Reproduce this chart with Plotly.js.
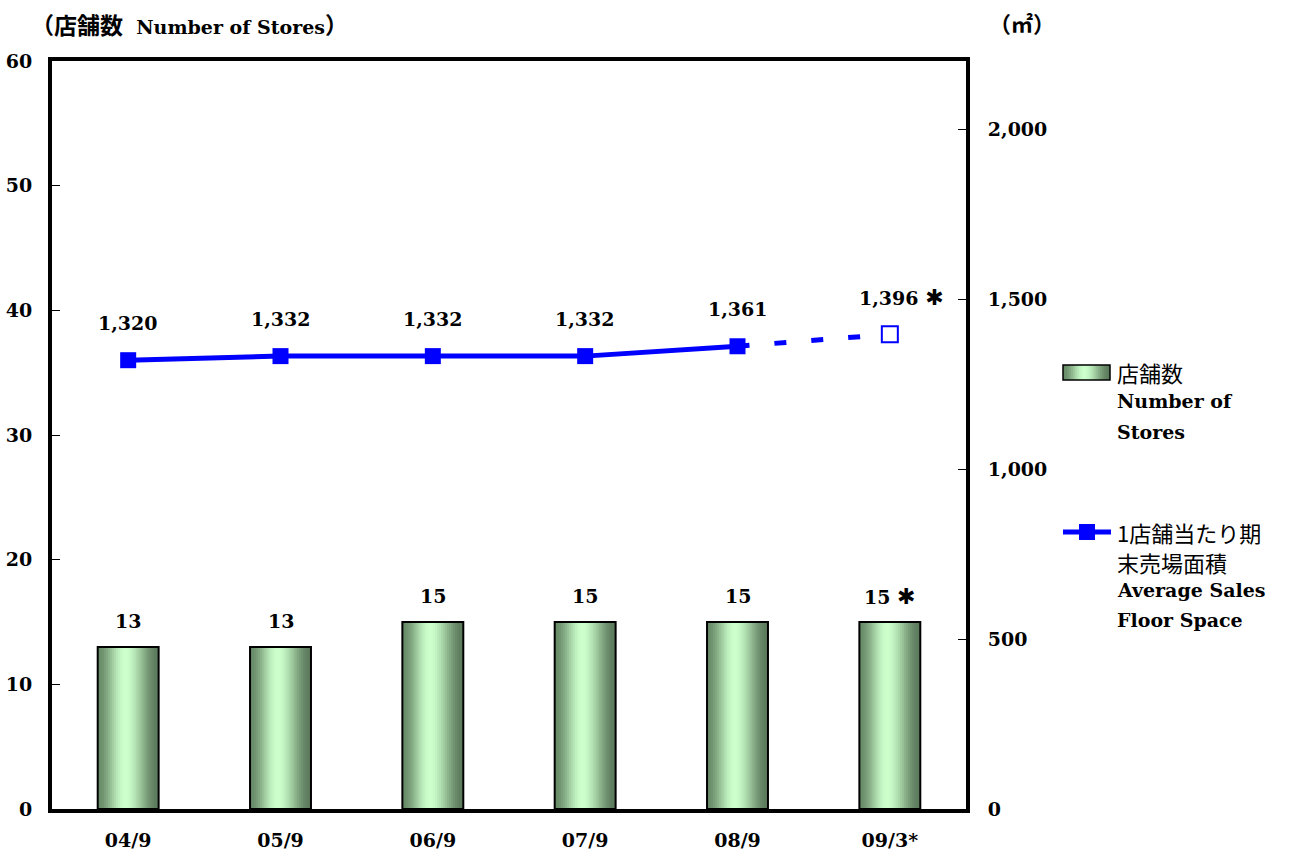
<!DOCTYPE html>
<html><head><meta charset="utf-8">
<script src="https://cdn.plot.ly/plotly-3.0.1.min.js"></script>
<style>html,body{margin:0;padding:0;background:#fff}#chart{width:1292px;height:856px}</style>
</head><body><div id="chart"></div>
<script>
// ---- data ----
const categories = ["04/9", "05/9", "06/9", "07/9", "08/9", "09/3*"];
const storeCounts = [13, 13, 15, 15, 15, 15];
const avgFloorSpace = [1320, 1332, 1332, 1332, 1361, 1396];
const noteMarks = ["", "", "", "", "", "✱"];
const leftTicks = [0, 10, 20, 30, 40, 50, 60];
const rightTicks = [0, 500, 1000, 1500, 2000];
const actualCount = 5;
const legendBarText = ["店舗数", "Number of", "Stores"];
const legendLineText = ["1店舗当たり期", "末売場面積", "Average Sales", "Floor Space"];
const leftTitle = ["（店舗数", "Number of Stores", "）"];
const rightTitle = "（㎡）";

// ---- layout helpers ----
const W = 1292, H = 856, L = 52, R = 966, T = 61, B = 809;
const px = x => (x - L) / (R - L);
const py = y => (B - y) / (B - T);
const SERIF = "DejaVu Serif, serif";
const CJK = "Noto Sans CJK JP, sans-serif";
const BLUE = "#0000ff";

const dark1 = [104, 138, 104], light = [204, 255, 204], dark2 = [92, 122, 92], peak = 0.45;
function smooth(u) { return u * u * (3 - 2 * u); }
function grad(t) {
  let a, b, u;
  if (t < peak) { a = dark1; b = light; u = smooth(t / peak); }
  else { a = light; b = dark2; u = smooth((t - peak) / (1 - peak)); }
  const c = a.map((v, k) => Math.round(v + (b[k] - v) * u));
  return `rgb(${c[0]},${c[1]},${c[2]})`;
}

const bw = 0.4, N = 30;
const traces = [];
for (let i = 0; i < N; i++) {
  const off = -bw / 2 + i * bw / N;
  traces.push({
    type: "bar", x: categories, y: storeCounts, yaxis: "y",
    offset: off, width: Math.min(bw / N * 1.6, bw / 2 - off),
    marker: { color: grad((i + 0.5) / N), line: { width: 0 } },
    hoverinfo: "skip", showlegend: false
  });
}
traces.push({
  type: "bar", x: categories, y: storeCounts, yaxis: "y", width: bw, offset: -bw / 2,
  marker: { color: "rgba(0,0,0,0)", line: { color: "#000", width: 2 } },
  hoverinfo: "skip", showlegend: false
});
traces.push({
  type: "scatter", mode: "lines", x: categories.slice(actualCount - 1), y: avgFloorSpace.slice(actualCount - 1),
  yaxis: "y2", line: { color: BLUE, width: 5, dash: "12px,25px" }, showlegend: false, hoverinfo: "skip"
});
traces.push({
  type: "scatter", mode: "lines+markers", x: categories.slice(0, actualCount), y: avgFloorSpace.slice(0, actualCount),
  yaxis: "y2", line: { color: BLUE, width: 5 },
  marker: { symbol: "square", size: 16, color: BLUE }, showlegend: false, hoverinfo: "skip"
});
traces.push({
  type: "scatter", mode: "markers", x: categories.slice(actualCount), y: avgFloorSpace.slice(actualCount),
  yaxis: "y2", marker: { symbol: "square", size: 16, color: "#fff", line: { color: BLUE, width: 2 } },
  showlegend: false, hoverinfo: "skip"
});

const lblFont = { family: SERIF, size: 19, color: "#000", weight: "bold" };
const noteHtml = m => m ? " <span style='font-family:DejaVu Sans;font-size:22px'>" + m + "</span>" : "";
const annotations = [];
categories.forEach((c, i) => {
  annotations.push({ x: c, y: storeCounts[i], xref: "x", yref: "y", yanchor: "middle",
    text: storeCounts[i] + noteHtml(noteMarks[i]), showarrow: false, yshift: 26, font: lblFont });
  annotations.push({ x: c, y: avgFloorSpace[i], xref: "x", yref: "y2", yanchor: "middle",
    text: avgFloorSpace[i].toLocaleString("en-US") + noteHtml(noteMarks[i]), showarrow: false,
    yshift: 37, xshift: noteMarks[i] ? 12 : 0, font: lblFont });
});
// titles
annotations.push({ xref: "paper", yref: "paper", x: px(29), y: py(24), xanchor: "left", yanchor: "middle", showarrow: false,
  text: "<span style='font-family:Noto Sans CJK JP;font-size:23px'>" + leftTitle[0] + "</span>  " + leftTitle[1] +
        "<span style='font-family:Noto Sans CJK JP;font-size:23px'>" + leftTitle[2] + "</span>",
  font: { family: SERIF, size: 19, color: "#000", weight: "bold" } });
annotations.push({ xref: "paper", yref: "paper", x: px(1022), y: py(22), xanchor: "center", yanchor: "middle", showarrow: false,
  text: rightTitle, font: { family: CJK, size: 22, color: "#000", weight: "bold" } });
// legend texts
const enFont = { family: SERIF, size: 19, color: "#000", weight: "bold" };
const jaFont = { family: CJK, size: 22, color: "#000" };
const legY1 = [372, 401, 432], legY2 = [532, 562, 590, 620];
legendBarText.forEach((t, i) => annotations.push({ xref: "paper", yref: "paper", x: px(1115), y: py(legY1[i]),
  xanchor: "left", yanchor: "middle", showarrow: false, text: t, font: i === 0 ? jaFont : enFont }));
legendLineText.forEach((t, i) => annotations.push({ xref: "paper", yref: "paper", x: px(1115), y: py(legY2[i]),
  xanchor: "left", yanchor: "middle", showarrow: false, text: t, font: i < 2 ? jaFont : enFont }));

// legend shapes
const shapes = [];
const lx0 = 1063, lx1 = 1110, ly0 = 365, ly1 = 380, M = 24;
for (let i = 0; i < M; i++) {
  const a = lx0 + (lx1 - lx0) * i / M, b = lx0 + (lx1 - lx0) * (i + 1.5) / M;
  shapes.push({ type: "rect", xref: "paper", yref: "paper", x0: px(a), x1: px(Math.min(b, lx1)), y0: py(ly1), y1: py(ly0),
    fillcolor: grad((i + 0.5) / M), line: { width: 0 }, layer: "above" });
}
shapes.push({ type: "rect", xref: "paper", yref: "paper", x0: px(lx0), x1: px(lx1), y0: py(ly1), y1: py(ly0),
  fillcolor: "rgba(0,0,0,0)", line: { color: "#000", width: 1.5 }, layer: "above" });
shapes.push({ type: "line", xref: "paper", yref: "paper", x0: px(1063), x1: px(1111), y0: py(532), y1: py(532),
  line: { color: BLUE, width: 5 }, layer: "above" });
shapes.push({ type: "rect", xref: "paper", yref: "paper", x0: px(1079), x1: px(1095), y0: py(540), y1: py(524),
  fillcolor: BLUE, line: { width: 0 }, layer: "above" });

const tickFont = { family: SERIF, size: 19, color: "#000", weight: "bold" };
const layout = {
  width: W, height: H, paper_bgcolor: "#fff", plot_bgcolor: "#fff",
  margin: { l: L, r: W - R, t: T, b: H - B, pad: 0 },
  barmode: "overlay", showlegend: false,
  xaxis: { type: "category", range: [-0.5, categories.length - 0.5], showline: true, linewidth: 4, linecolor: "#000",
    mirror: true, ticks: "", showgrid: false, zeroline: false, tickfont: tickFont, ticklabelstandoff: 11, fixedrange: true },
  yaxis: { range: [0, 60], tickvals: leftTicks, ticks: "inside", ticklen: 8, tickwidth: 1, tickcolor: "#000",
    showline: true, linewidth: 4, linecolor: "#000", showgrid: false, zeroline: false, tickfont: tickFont,
    ticklabelstandoff: 12, fixedrange: true },
  yaxis2: { overlaying: "y", side: "right", range: [0, 2200], tickvals: rightTicks, tickformat: ",d",
    ticks: "inside", ticklen: 8, tickwidth: 1, tickcolor: "#000", showline: true, linewidth: 4, linecolor: "#000",
    showgrid: false, zeroline: false, tickfont: tickFont, ticklabelstandoff: 14, fixedrange: true },
  annotations: annotations, shapes: shapes
};
Plotly.newPlot("chart", traces, layout, { staticPlot: true, displayModeBar: false });
</script></body></html>
